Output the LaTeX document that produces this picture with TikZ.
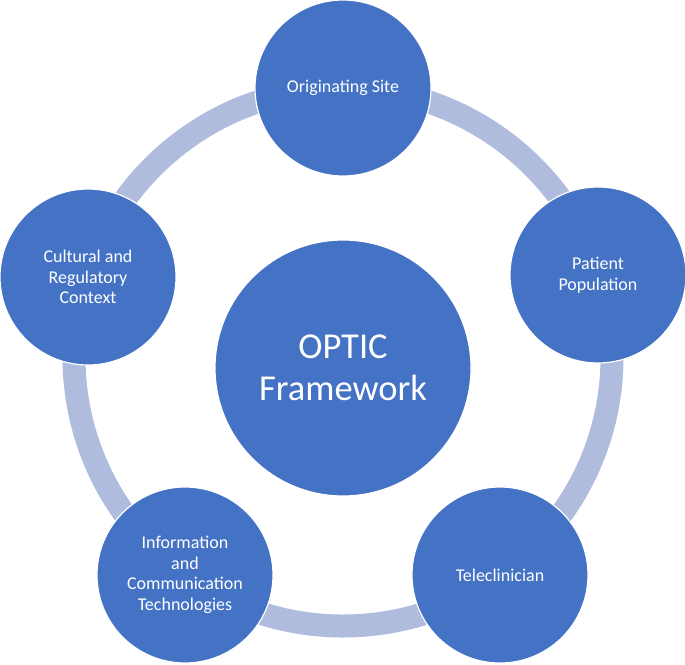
\documentclass[tikz,border=0pt]{standalone}
\usepackage{fontspec}
\setmainfont{Carlito}
\definecolor{hubblue}{RGB}{68,114,196}
\definecolor{ringblue}{RGB}{175,188,222}
\tikzset{
  petal/.style={circle,fill=hubblue,draw=white,line width=1.2pt,minimum size=176pt,
    inner sep=0pt,text=white,align=center,font=\fontsize{18}{20.5}\selectfont},
  hub/.style={petal,minimum size=256pt,font=\fontsize{36.5}{41.5}\selectfont}
}
\begin{document}
\begin{tikzpicture}[x=1pt,y=-1pt,line cap=round,line join=round]
  \useasboundingbox (0,0) rectangle (685,664);
  \draw[line width=23pt,ringblue] (343,357) circle[radius=269];
  \node[hub] (optic) at (343,368) {OPTIC\\Framework};
  \node[petal] (site) at (343,88) {Originating Site};
  \node[petal] (patient) at (598,275) {Patient\\Population};
  \node[petal] (tele) at (500,575) {Teleclinician};
  \node[petal] (ict) at (185,575) {Information\\and\\Communication\\Technologies};
  \node[petal] (context) at (88,277) {Cultural and\\Regulatory\\Context};
\end{tikzpicture}
\end{document}
